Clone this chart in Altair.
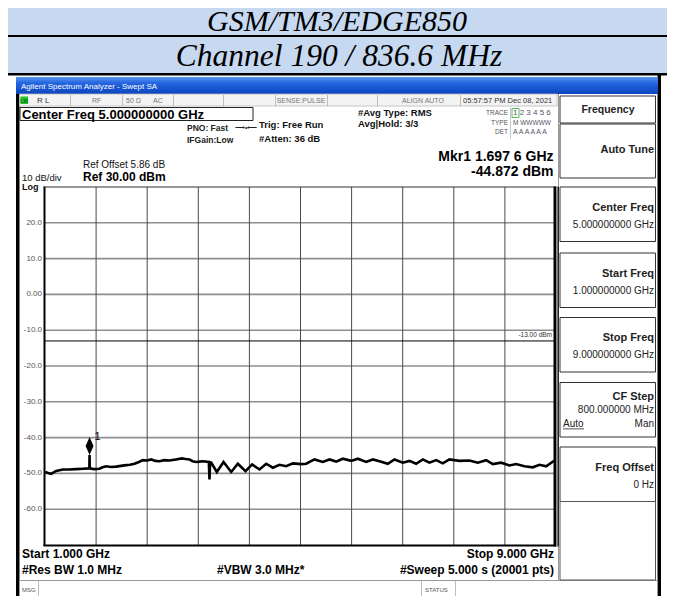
import altair as alt
import pandas as pd

# ------------------------------------------------------------------ data
freq_ghz = [1.003, 1.05, 1.097, 1.175, 1.279, 1.38, 1.488, 1.60, 1.681, 1.694, 1.6976, 1.701,
            1.76, 1.853, 1.90, 1.958, 2.03, 2.114, 2.19, 2.271, 2.33, 2.401, 2.47, 2.532, 2.60,
            2.662, 2.73, 2.793, 2.87, 2.949, 3.05, 3.142, 3.20, 3.262, 3.31, 3.367, 3.42, 3.471,
            3.565, 3.575, 3.585, 3.602, 3.690, 3.795, 3.915, 4.019, 4.139, 4.243, 4.358, 4.463,
            4.567, 4.671, 4.776, 4.880, 5.011, 5.089, 5.219, 5.349, 5.454, 5.558, 5.662, 5.793,
            5.897, 6.028, 6.132, 6.237, 6.367, 6.471, 6.602, 6.706, 6.810, 6.915, 7.019, 7.124,
            7.228, 7.332, 7.489, 7.645, 7.776, 7.906, 8.011, 8.141, 8.271, 8.376, 8.506, 8.637,
            8.741, 8.846, 8.960, 9.0]
level_dbm = [-49.6, -49.9, -50.1, -49.3, -48.9, -48.9, -48.8, -48.7, -48.6, -48.6, -44.872, -48.6,
             -48.8, -48.7, -48.3, -48.0, -48.2, -48.1, -47.9, -47.7, -47.6, -47.3, -46.8, -46.3, -46.4,
             -46.1, -46.5, -46.6, -46.3, -46.4, -46.1, -45.8, -46.0, -46.1, -46.6, -46.8, -46.7, -46.6,
             -46.8, -51.7, -46.9, -47.0, -49.6, -46.8, -49.6, -47.3, -49.4, -47.5, -48.9, -47.3,
             -48.4, -47.6, -48.0, -47.2, -47.4, -47.3, -46.1, -46.8, -46.1, -46.7, -45.9, -46.5,
             -45.9, -46.8, -46.1, -46.6, -47.3, -46.1, -47.0, -46.5, -47.3, -46.1, -47.0, -46.3,
             -47.2, -46.1, -46.5, -46.4, -47.0, -46.3, -47.4, -47.0, -47.8, -47.4, -48.0, -48.3,
             -47.6, -48.0, -46.6, -46.5]
marker_freq_ghz = [1.6976]
marker_level_dbm = [-44.872]
marker_label = ["1"]
display_line_dbm = [-13.0]
display_line_label = ["-13.00 dBm"]
y_tick_values = [20, 10, 0, -10, -20, -30, -40, -50, -60]
y_tick_labels = ["20.0", "10.0", "0.00", "-10.0", "-20.0", "-30.0", "-40.0", "-50.0", "-60.0"]
x_grid_ghz = [1.8, 2.6, 3.4, 4.2, 5.0, 5.8, 6.6, 7.4, 8.2]
x_domain_ghz = [1.0, 9.0]
y_domain_dbm = [-70.0, 30.0]
table_titles = ["GSM/TM3/EDGE850", "Channel 190 / 836.6 MHz"]
softkey_titles = ["Center Freq", "Start Freq", "Stop Freq", "CF Step", "Freq Offset"]
softkey_values = ["5.000000000 GHz", "1.000000000 GHz", "9.000000000 GHz", "800.000000 MHz", "0 Hz"]

# ------------------------------------------------------------------ layout
OX, OY = 45, 187          # page position of the plot origin
PW, PH = 511, 358         # plot size
CW, CH = 659, 588         # drawable page area
PAD = {"left": OX - 8, "top": OY - 8, "right": CW - (OX - 8) - PW, "bottom": CH - (OY - 8) - PH}
SANS = "Liberation Sans"
SERIF = "Liberation Serif"
ONE = pd.DataFrame({"k": [0]})


def box(x1, y1, x2, y2, fill="white", stroke=None, sw=1.0):
    kw = {}
    if fill is None:
        kw["fillOpacity"] = 0
        kw["fill"] = "white"
    else:
        kw["fill"] = fill
    if stroke is not None:
        kw["stroke"] = stroke
        kw["strokeWidth"] = sw
    return alt.Chart(ONE).mark_rect(**kw).encode(
        x=alt.value(x1 - OX), x2=alt.value(x2 - OX),
        y=alt.value(y1 - OY), y2=alt.value(y2 - OY))


def txt(s, x, y, size=10, weight="normal", align="left", color="black",
        font=SANS, style="normal", baseline="middle"):
    return alt.Chart(ONE).mark_text(
        text=s, fontSize=size, fontWeight=weight, align=align, color=color,
        font=font, fontStyle=style, baseline=baseline).encode(
        x=alt.value(x - OX), y=alt.value(y - OY))


layers = []

# --- table header rows
layers += [
    box(0, 0, 675, 36, fill="#c6d9f1"),
    box(0, 35, 675, 37, fill="black"),
    box(0, 37, 675, 73, fill="#c6d9f1"),
    box(0, 73, 675, 75.5, fill="black"),
    txt(table_titles[0], 337, 30.5, size=30, font=SERIF, style="italic", align="center", baseline="alphabetic"),
    txt(table_titles[1], 339, 66, size=31.5, font=SERIF, style="italic", align="center", baseline="alphabetic"),
]

# --- instrument window frame
title_grad = alt.Gradient(gradient="linear", x1=0, y1=0, x2=0, y2=1, stops=[
    alt.GradientStop(offset=0, color="#5b95f0"),
    alt.GradientStop(offset=0.35, color="#2566e0"),
    alt.GradientStop(offset=1, color="#0b44bf")])
layers += [
    box(16, 93, 19.5, 604, fill="black"),
    box(657.5, 75, 661, 604, fill="black"),
    box(16, 77, 658, 94, fill=title_grad),
    txt("Agilent Spectrum Analyzer - Swept SA", 21, 86.5, size=8, color="white"),
    # status strip
    box(19.5, 94, 557, 106, fill="#f3f3f3", stroke="#b8b8b8", sw=0.8),
]
for sx in [70, 122, 173, 223, 275, 327, 377, 460]:
    layers.append(box(sx, 95, sx + 0.8, 106, fill="#b0b0b0"))
layers += [
    box(20.5, 96.5, 28, 104, fill="#22c422"),
    txt("LXI", 24.2, 100.5, size=5, color="#063", align="center", weight="bold"),
    txt("R L", 37, 100.5, size=8, color="#333"),
    txt("RF", 92, 100.5, size=7, color="#777"),
    txt("50 Ω", 126, 100.5, size=7, color="#777"),
    txt("AC", 153, 100.5, size=7, color="#777"),
    txt("SENSE:PULSE", 301, 100.5, size=7, color="#777", align="center"),
    txt("ALIGN AUTO", 423, 100.5, size=7, color="#777", align="center"),
    txt("05:57:57 PM Dec 08, 2021", 463, 100.5, size=7.5, color="#333"),
]

# --- settings area
layers += [
    box(20, 107.5, 253, 120.5, fill=None, stroke="#222", sw=1),
    txt("Center Freq 5.000000000 GHz", 22, 114.5, size=13, weight="bold"),
    txt("PNO: Fast", 187, 128, size=8.5, weight="bold", color="#222"),
    txt("⟶•⟵", 235, 128, size=7, color="#222"),
    txt("IFGain:Low", 187, 139.5, size=8.5, weight="bold", color="#222"),
    txt("Trig: Free Run", 259, 124.5, size=9.5, weight="bold", color="#111"),
    txt("#Atten: 36 dB", 259, 139, size=9.5, weight="bold", color="#111"),
    txt("#Avg Type: RMS", 358, 113, size=9.5, weight="bold", color="#111"),
    txt("Avg|Hold: 3/3", 358, 124, size=9.5, weight="bold", color="#111"),
    txt("TRACE", 508, 113, size=6.5, color="#555", align="right"),
    txt("TYPE", 508, 122.5, size=6.5, color="#555", align="right"),
    txt("DET", 508, 131.5, size=6.5, color="#555", align="right"),
    box(510, 107.5, 510.8, 139, fill="#bbbbbb"),
    box(512, 108.5, 519, 117.5, fill=None, stroke="#3a3", sw=0.8),
    txt("1 2 3 4 5 6", 513, 113, size=8, color="#556"),
    txt("M WWWWW", 513, 122.5, size=6.5, color="#556"),
    txt("A A A A A A", 513, 131.5, size=7, color="#556"),
    txt("Mkr1 1.697 6 GHz", 553.5, 157, size=14, weight="bold", align="right"),
    txt("-44.872 dBm", 553.5, 172, size=14, weight="bold", align="right"),
    txt("Ref Offset 5.86 dB", 83, 165, size=10, color="#111"),
    txt("10 dB/div", 22, 177.5, size=9.5, color="#111"),
    txt("Ref 30.00 dBm", 83, 177, size=12, weight="bold"),
    txt("Log", 22, 186.5, size=9, weight="bold", color="#111"),
]

# --- bottom annotations
layers += [
    txt("Start 1.000 GHz", 22, 554, size=12, weight="bold"),
    txt("Stop 9.000 GHz", 554, 554, size=12, weight="bold", align="right"),
    txt("#Res BW 1.0 MHz", 22, 569.5, size=12, weight="bold"),
    txt("#VBW 3.0 MHz*", 217, 569.5, size=12, weight="bold"),
    txt("#Sweep  5.000 s (20001 pts)", 554, 569.5, size=12, weight="bold", align="right"),
    box(19.5, 580.5, 657.5, 599, fill="white", stroke="#9a9a9a", sw=1),
    box(38, 581, 38.8, 599, fill="#aaaaaa"),
    box(421, 581, 421.8, 599, fill="#aaaaaa"),
    box(455, 581, 455.8, 599, fill="#aaaaaa"),
    txt("MSG", 22, 590, size=6, color="#555"),
    txt("STATUS", 425, 590, size=6, color="#555"),
]

# --- softkey panel
layers += [
    box(558, 94, 559, 580, fill="#9a9a9a"),
    box(560, 96, 655.5, 123, fill="white", stroke="#333", sw=1),
    txt("Frequency", 608, 109.5, size=10.5, weight="bold", align="center", color="#222"),
    box(560, 124, 655.5, 178, fill="white", stroke="#333", sw=1),
    txt("Auto Tune", 654, 150, size=11, weight="bold", align="right", color="#222"),
]
key_tops = [187, 253, 317.5, 382.5, 447]
for top, t, v in zip(key_tops, softkey_titles, softkey_values):
    layers.append(box(560, top, 655.5, top + 54.5, fill="white", stroke="#333", sw=1))
    if t == "CF Step":
        layers.append(txt(t, 654, top + 14, size=11, weight="bold", align="right", color="#222"))
        layers.append(txt(v, 654, top + 27.5, size=10, align="right", color="#222"))
        layers.append(txt("Auto", 563, top + 41, size=10, color="#222"))
        layers.append(box(563, top + 46, 584, top + 46.8, fill="#222"))
        layers.append(txt("Man", 654, top + 41, size=10, align="right", color="#222"))
    else:
        layers.append(txt(t, 654, top + 20.5, size=11, weight="bold", align="right", color="#222"))
        layers.append(txt(v, 654, top + 37.5, size=10, align="right", color="#222"))
layers.append(box(560, 501.5, 655.5, 580, fill="white", stroke="#555", sw=1))

# ------------------------------------------------------------------ plot
xs = alt.Scale(domain=x_domain_ghz, nice=False, zero=False)
ys = alt.Scale(domain=y_domain_dbm, nice=False, zero=False)

grid_y = pd.DataFrame({"p": y_tick_values, "lab": y_tick_labels})
grid_x = pd.DataFrame({"f": x_grid_ghz})
trace = pd.DataFrame({"f": freq_ghz, "p": level_dbm})
marker = pd.DataFrame({"f": marker_freq_ghz, "p": marker_level_dbm, "lab": marker_label})
dline = pd.DataFrame({"p": display_line_dbm, "lab": display_line_label})

X = lambda: alt.X("f:Q", scale=xs, axis=None)
Y = lambda: alt.Y("p:Q", scale=ys, axis=None)

layers += [
    alt.Chart(grid_y).mark_rule(color="#8e8e8e", strokeWidth=1.6).encode(y=Y()),
    alt.Chart(grid_x).mark_rule(color="#4a4a4a", strokeWidth=1).encode(x=X()),
    alt.Chart(grid_y).mark_text(align="right", baseline="middle", fontSize=8, color="#555",
                                font=SANS, dx=-3).encode(
        y=Y(), x=alt.value(0), text="lab:N"),
    alt.Chart(dline).mark_rule(color="black", strokeWidth=1).encode(y=Y()),
    alt.Chart(dline).mark_text(align="right", baseline="middle", fontSize=6.5, color="#333",
                               font=SANS, dy=-5.5).encode(
        y=Y(), x=alt.value(PW - 4), text="lab:N"),
    alt.Chart(trace).mark_line(color="black", strokeWidth=2.6, interpolate="linear").encode(
        x=X(), y=Y(), order="f:Q"),
    alt.Chart(marker).mark_point(shape="M0,-1L0.44,0L0,1L-0.44,0Z", size=324, filled=True,
                                 color="black", opacity=1, yOffset=-9).encode(x=X(), y=Y()),
    alt.Chart(marker).mark_text(align="left", baseline="middle", fontSize=11, fill="black",
                                font=SANS, dx=5, dy=-18).encode(x=X(), y=Y(), text="lab:N"),
    # plot frame
    box(OX - 1.5, OY - 0.5, OX + 0.5, OY + PH + 1, fill="black"),
    box(OX - 1.5, OY - 0.5, OX + PW, OY + 0.5, fill="#333"),
    box(OX - 1.5, OY + PH - 0.5, OX + PW, OY + PH + 1.5, fill="black"),
    box(OX + PW - 2.5, OY - 0.5, OX + PW + 0.5, OY + PH + 1.5, fill="black"),
    box(OX + PW + 0.5, OY - 0.5, OX + PW + 1.5, OY + PH + 1.5, fill="#999"),
    box(OX + PW + 1.5, OY - 0.5, OX + PW + 3, OY + PH + 1.5, fill="#222"),
]

chart = alt.layer(*layers).properties(
    width=PW, height=PH, padding=PAD,
    autosize=alt.AutoSizeParams(type="none"),
    background="white",
).configure_view(stroke=None)

chart.save("out.html", embed_options={"renderer": "svg", "actions": False})
